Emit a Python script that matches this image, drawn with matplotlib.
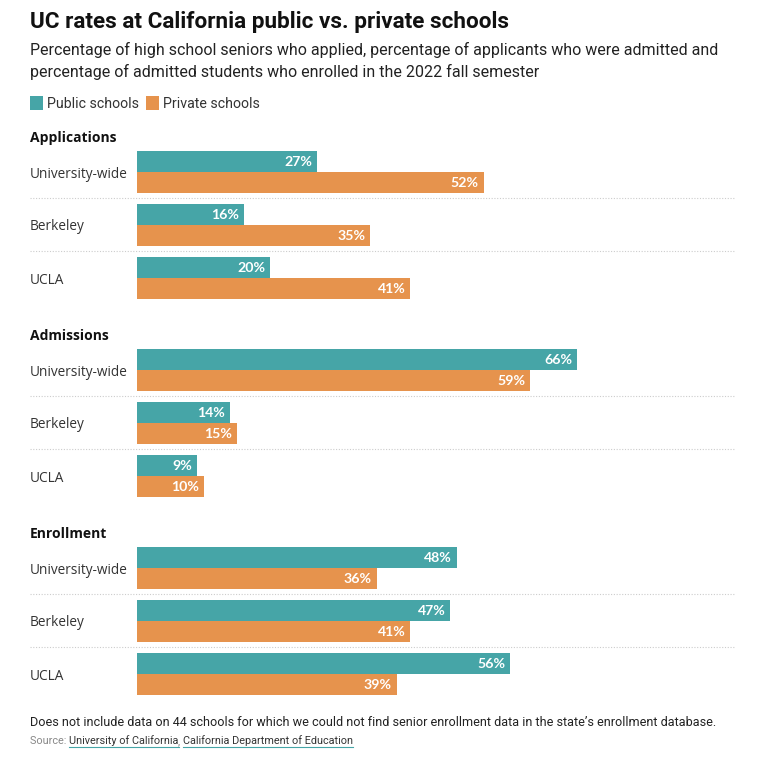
import matplotlib
matplotlib.use("Agg")
import matplotlib.pyplot as plt

groups = ["Applications", "Admissions", "Enrollment"]
rows = ["University-wide", "Berkeley", "UCLA"]
public = [[27, 16, 20], [66, 14, 9], [48, 47, 56]]
private = [[52, 35, 41], [59, 15, 10], [36, 41, 39]]
series = ["Public schools", "Private schools"]
colors = ["#46a5a7", "#e6934d"]

W, H = 776, 762
fig = plt.figure(figsize=(W / 100, H / 100), dpi=100)
bg = fig.add_axes([0, 0, 1, 1])
bg.set_xlim(0, W)
bg.set_ylim(H, 0)
bg.axis("off")

x0, x1 = 137, 735
px_per_pct = 6.667
ax = fig.add_axes([x0 / W, 0, (x1 - x0) / W, 1])
ax.set_xlim(0, (x1 - x0) / px_per_pct)
ax.set_ylim(H, 0)
ax.axis("off")

SANS = ["Roboto", "DejaVu Sans"]
BODY = ["Open Sans", "DejaVu Sans"]

bg.text(30, 22, "UC rates at California public vs. private schools", fontsize=16.2,
        fontweight="bold", family=SANS, color="#111111", va="center")
bg.text(30, 50, "Percentage of high school seniors who applied, percentage of applicants who were admitted and",
        fontsize=11.55, family=SANS, color="#222222", va="center")
bg.text(30, 72, "percentage of admitted students who enrolled in the 2022 fall semester",
        fontsize=11.55, family=SANS, color="#222222", va="center")

# legend
lx = 30
for name, c in zip(series, colors):
    bg.add_patch(plt.Rectangle((lx, 96), 13, 14, color=c, lw=0))
    t = bg.text(lx + 17, 104.5, name, fontsize=10.2, family=SANS, color="#333333", va="center")
    fig.canvas.draw()
    bb = t.get_window_extent()
    lx = bb.x1 + 7

bh = 20.5
for g, gname in enumerate(groups):
    gy = 138 + 198 * g
    bg.text(30, gy, gname, fontsize=10, fontweight="bold", family=BODY, color="#111111", va="center")
    for r, rname in enumerate(rows):
        top = 151 + 198 * g + 53 * r
        yc_pub = top + bh / 2
        yc_pri = top + 21 + bh / 2
        ax.barh(yc_pub, public[g][r], height=bh, color=colors[0], left=0)
        ax.barh(yc_pri, private[g][r], height=bh, color=colors[1], left=0)
        for v, yc in ((public[g][r], yc_pub), (private[g][r], yc_pri)):
            ax.text(v - 0.75, yc + 0.5, f"{v}%", ha="right", va="center", color="white",
                    fontsize=10.2, fontweight="bold", family=["Lato", "DejaVu Sans"])
        bg.text(30, top + 23, rname, fontsize=9.8, family=BODY, color="#333333", va="center")
        if r < 2:
            bg.plot([30, x1], [top + 47, top + 47], color="#cccccc", lw=0.8, ls=(0, (1, 1.5)))

bg.text(30, 723, "Does not include data on 44 schools for which we could not find senior enrollment data in the state\u2019s enrollment database.",
        fontsize=9.05, family=SANS, color="#222222", va="center")
t = bg.text(30, 741, "Source: ", fontsize=7.8, family=SANS, color="#888888", va="center")
fig.canvas.draw()
inv = bg.transData.inverted()
xs = inv.transform((t.get_window_extent().x1, 0))[0]
t2 = bg.text(xs, 741, "University of California", fontsize=7.8, family=SANS, color="#333333", va="center")
fig.canvas.draw()
bb = t2.get_window_extent()
xa, xb = inv.transform((bb.x0, 0))[0], inv.transform((bb.x1, 0))[0]
bg.plot([xa, xb], [747, 747], color="#46a5a7", lw=0.8)
t3 = bg.text(xb, 741, ", ", fontsize=7.8, family=SANS, color="#888888", va="center")
fig.canvas.draw()
xc = inv.transform((t3.get_window_extent().x1, 0))[0]
t4 = bg.text(xc, 741, "California Department of Education", fontsize=7.8, family=SANS, color="#333333", va="center")
fig.canvas.draw()
bb = t4.get_window_extent()
xa, xb = inv.transform((bb.x0, 0))[0], inv.transform((bb.x1, 0))[0]
bg.plot([xa, xb], [747, 747], color="#46a5a7", lw=0.8)

fig.savefig("out.png", dpi=100, facecolor="white")
